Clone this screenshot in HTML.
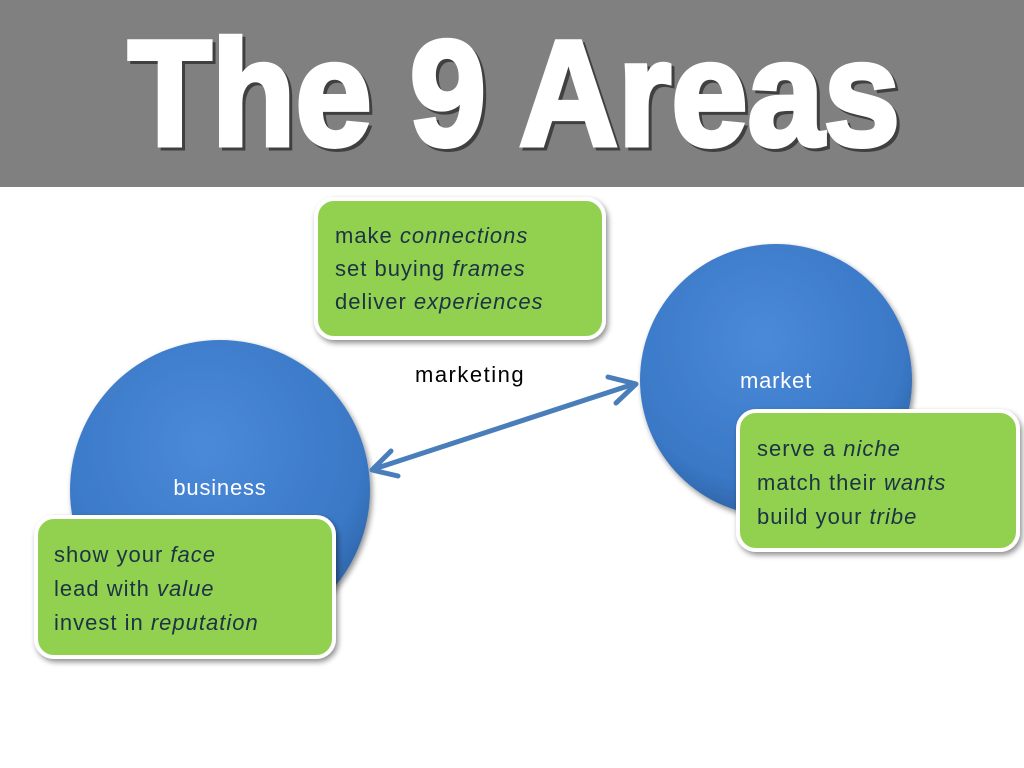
<!DOCTYPE html>
<html><head><style>
html,body{margin:0;padding:0;background:#fff;}
svg{display:block}
</style></head><body>
<svg width="1024" height="768" viewBox="0 0 1024 768" xmlns="http://www.w3.org/2000/svg">
<defs>
<radialGradient id="cg" cx="45%" cy="35%" r="70%">
<stop offset="0" stop-color="#4a8ad8"/>
<stop offset="0.75" stop-color="#3a78c6"/>
<stop offset="1" stop-color="#2c5e9e"/>
</radialGradient>
<filter id="sh" x="-10%" y="-10%" width="130%" height="130%">
<feGaussianBlur in="SourceAlpha" stdDeviation="3"/>
<feOffset dx="2" dy="3"/>
<feComponentTransfer><feFuncA type="linear" slope="0.45"/></feComponentTransfer>
<feMerge><feMergeNode/><feMergeNode in="SourceGraphic"/></feMerge>
</filter>
</defs>
<rect x="0" y="0" width="1024" height="187" fill="#808080"/>
<text x="131" y="148" font-family="'Liberation Sans Narrow','Liberation Sans',sans-serif" font-weight="bold" font-size="150" fill="#404040" stroke="#404040" stroke-width="5" textLength="772" lengthAdjust="spacingAndGlyphs">The 9 Areas</text>
<text x="128" y="145" font-family="'Liberation Sans Narrow','Liberation Sans',sans-serif" font-weight="bold" font-size="150" fill="#fff" stroke="#fff" stroke-width="5" textLength="772" lengthAdjust="spacingAndGlyphs">The 9 Areas</text>

<circle cx="220" cy="490" r="150" fill="url(#cg)" filter="url(#sh)"/>
<circle cx="776" cy="380" r="136" fill="url(#cg)" filter="url(#sh)"/>
<text x="220" y="495" text-anchor="middle" font-family="'Liberation Sans',sans-serif" font-size="22" letter-spacing="0.8" fill="#fff">business</text>
<text x="776" y="388" text-anchor="middle" font-family="'Liberation Sans',sans-serif" font-size="22" letter-spacing="0.8" fill="#fff">market</text>

<g stroke="#4a7ebb" stroke-width="5" fill="none" stroke-linecap="round" stroke-linejoin="round">
<line x1="374" y1="469" x2="634" y2="384"/>
<polyline points="391,451 372,470 398,476"/>
<polyline points="608,377 636,384 616,403"/>
</g>
<text x="415" y="382" font-family="'Liberation Sans',sans-serif" font-size="22" letter-spacing="1.5" fill="#000">marketing</text>

<g font-family="'Liberation Sans',sans-serif" font-size="22" letter-spacing="1" fill="#1c3345">
<rect x="316" y="199" width="288" height="139" rx="18" fill="#92d050" stroke="#fff" stroke-width="4" filter="url(#sh)"/>
<text x="335" y="243">make <tspan font-style="italic">connections</tspan></text>
<text x="335" y="276">set buying <tspan font-style="italic">frames</tspan></text>
<text x="335" y="309">deliver <tspan font-style="italic">experiences</tspan></text>

<rect x="36" y="517" width="298" height="140" rx="18" fill="#92d050" stroke="#fff" stroke-width="4" filter="url(#sh)"/>
<text x="54" y="562">show your <tspan font-style="italic">face</tspan></text>
<text x="54" y="596">lead with <tspan font-style="italic">value</tspan></text>
<text x="54" y="630">invest in <tspan font-style="italic">reputation</tspan></text>

<rect x="738" y="411" width="280" height="139" rx="18" fill="#92d050" stroke="#fff" stroke-width="4" filter="url(#sh)"/>
<text x="757" y="456">serve a <tspan font-style="italic">niche</tspan></text>
<text x="757" y="490">match their <tspan font-style="italic">wants</tspan></text>
<text x="757" y="524">build your <tspan font-style="italic">tribe</tspan></text>
</g>
</svg>
</body></html>
